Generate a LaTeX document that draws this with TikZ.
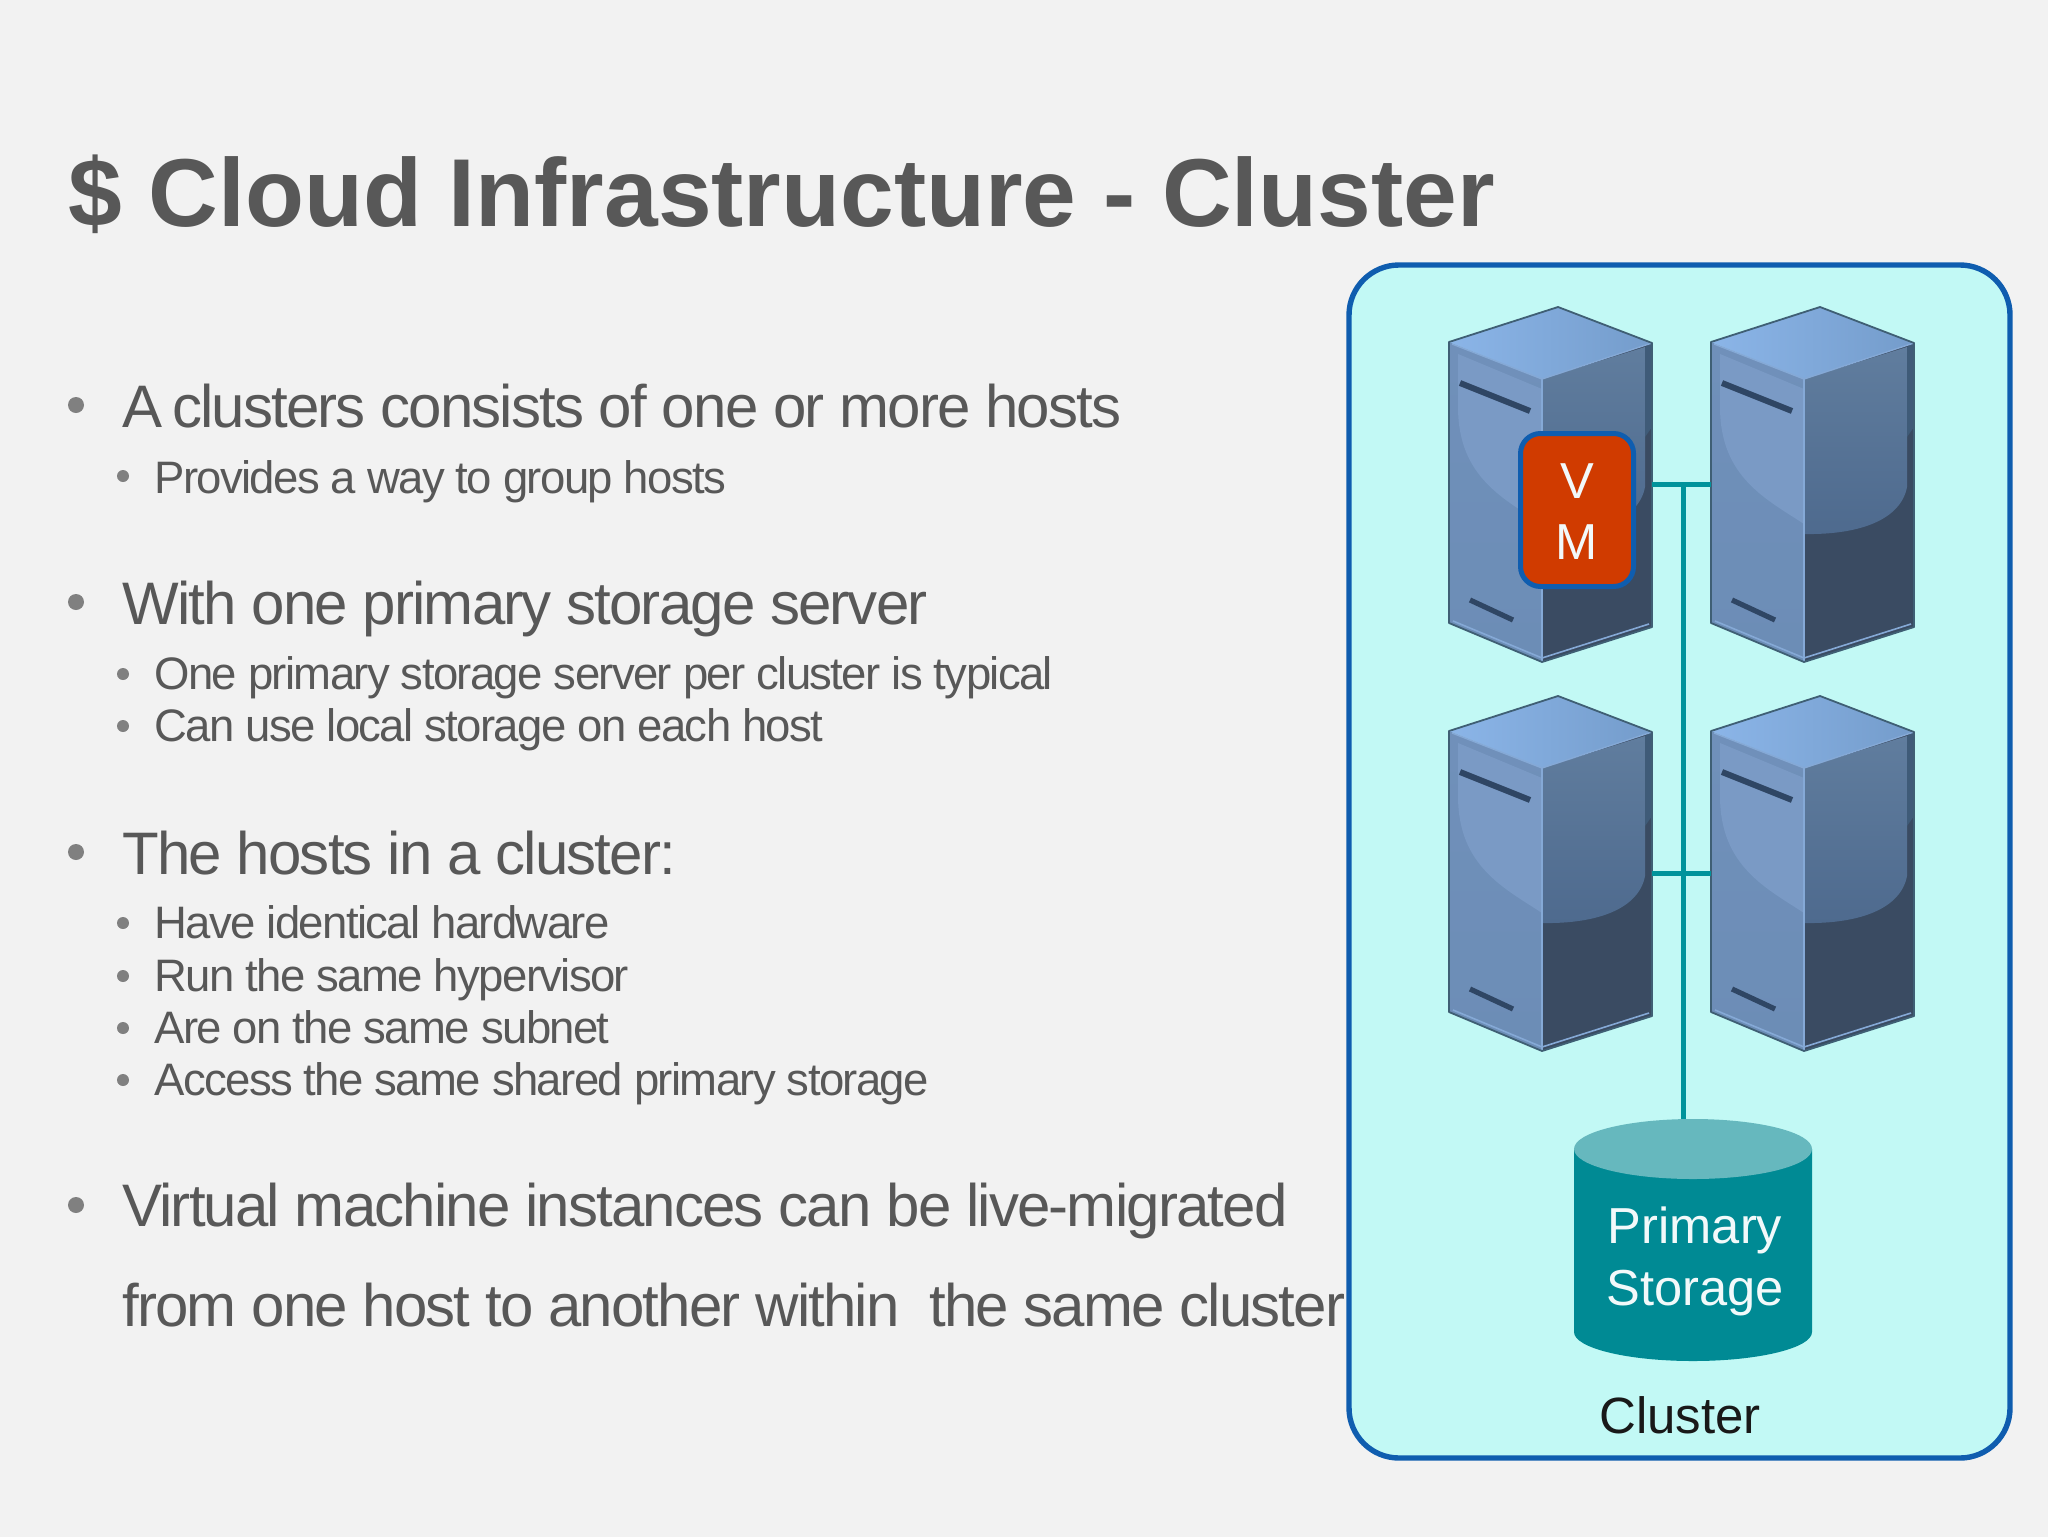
\documentclass[tikz,border=0pt]{standalone}
\usepackage{fontspec}
\setmainfont{Liberation Sans}
\newfontfamily\titlefont{Liberation Sans}
\newfontfamily\bodyfont[LetterSpace=-3.1]{Liberation Sans}
\newfontfamily\subfont[LetterSpace=-3.6]{Liberation Sans}
\definecolor{pagebg}{HTML}{F2F2F2}
\definecolor{inktext}{HTML}{585858}
\definecolor{bulletgrey}{HTML}{808080}
\definecolor{clusterfill}{HTML}{C2F9F5}
\definecolor{borderblue}{HTML}{0F5DAF}
\definecolor{vmred}{HTML}{D03B00}
\definecolor{teal}{HTML}{008A94}
\definecolor{tealtop}{HTML}{66B8BE}
\definecolor{trunk}{HTML}{00939B}
\definecolor{srvedge}{HTML}{3F5F74}
\definecolor{srvdark}{HTML}{3A4B62}
\definecolor{srvslit}{HTML}{2F4664}
\definecolor{srvlefttop}{HTML}{7090BA}
\definecolor{srvleftbot}{HTML}{6C8DB6}
\definecolor{srvlefthi}{HTML}{7A9AC5}
\definecolor{srvrighttop}{HTML}{607D9E}
\definecolor{srvrightbot}{HTML}{4E6A8E}
\definecolor{srvstrip}{HTML}{3F5B78}
\definecolor{srvtopl}{HTML}{8BB5E8}
\definecolor{srvtopr}{HTML}{749CCB}
\definecolor{srvbevel}{HTML}{85A9D6}
\tikzset{
  x=0.5pt,y=-0.5pt,
  titletext/.style={anchor=base west,inner sep=0pt,text=inktext,font=\titlefont\bfseries\fontsize{48.25}{58}\selectfont},
  mainline/.style={anchor=base west,inner sep=0pt,text=inktext,font=\bodyfont\fontsize{30}{36}\selectfont},
  subline/.style={anchor=base west,inner sep=0pt,text=inktext,font=\subfont\fontsize{22.75}{27}\selectfont},
  mainbullet/.style={circle,fill=bulletgrey,inner sep=0pt,minimum size=8pt},
  subbullet/.style={circle,fill=bulletgrey,inner sep=0pt,minimum size=6pt},
  whitetext/.style={anchor=base,inner sep=0pt,text=white!95!teal,font=\fontsize{25.3}{30}\selectfont},
  wire/.style={draw=trunk,line width=2.5pt},
  serverarea/.style={inner sep=0pt,minimum width=101.5pt,minimum height=177.5pt},
  pics/serverbox/.style={code={
    % left face
    \shade[top color=srvlefttop,bottom color=srvleftbot] (0,35) -- (93,72) -- (93,355) -- (0,316) -- cycle;
    % left highlight
    \fill[srvlefthi] (9,47) -- (93,82) -- (93,217) .. controls (55,192) and (9,170) .. (9,100) -- cycle;
    % right face
    \fill[srvdark] (93,72) -- (203,36) -- (203,320) -- (93,355) -- cycle;
    \shade[top color=srvrighttop,bottom color=srvrightbot] (93,72) -- (196,40) -- (196,180) .. controls (190,212) and (150,228) .. (93,227) -- cycle;
    \fill[srvstrip] (196,40) -- (203,36) -- (203,120) -- (196,130) -- cycle;
    % top face
    \shade[left color=srvtopl,right color=srvtopr] (109,0) -- (203,36) -- (93,72) -- (0,35) -- cycle;
    % slits
    \draw[srvslit,line width=3pt] (11,76) -- (81,104);
    \draw[srvslit,line width=2.6pt] (21,293) -- (64,313);
    % edges
    \draw[srvbevel,line width=0.9pt] (93,72) -- (93,355);
    \draw[srvbevel,line width=0.7pt] (93,72) -- (203,36);
    \draw[srvbevel,line width=0.7pt] (93,72) -- (3,37);
    \draw[srvbevel,line width=0.8pt] (4,314) -- (93,351) -- (200,317);
    \draw[srvedge,line width=0.9pt,line join=round] (0,35) -- (109,0) -- (203,36) -- (203,320) -- (93,355) -- (0,316) -- cycle;
  }}
}
\begin{document}
\begin{tikzpicture}
\useasboundingbox (0,0) rectangle (2048,1536);
\fill[pagebg] (-6,-6) rectangle (2054,1542);

% title
\node[titletext] (title) at (68,226) {\$ Cloud Infrastructure - Cluster};

% bullets and text
\node[mainbullet] (b1) at (76,405) {};
\node[mainline] (t1) at (122,427) {A\hspace{-2.6pt} clusters consists of one or more hosts};
\node[subbullet] (b1a) at (123,476) {};
\node[subline] (t1a) at (154,493) {Provides a way to group hosts};

\node[mainbullet] (b2) at (76,602) {};
\node[mainline] (t2) at (122,624) {With one primary storage server};
\node[subbullet] (b2a) at (123,674) {};
\node[subline] (t2a) at (154,689) {One primary storage server per cluster is typical};
\node[subbullet] (b2b) at (123,726) {};
\node[subline] (t2b) at (154,741) {Can use local storage on each host};

\node[mainbullet] (b3) at (76,852) {};
\node[mainline] (t3) at (122,874) {The hosts in a cluster:};
\node[subbullet] (b3a) at (123,923) {};
\node[subline] (t3a) at (154,938) {Have identical hardware};
\node[subbullet] (b3b) at (123,976) {};
\node[subline] (t3b) at (154,991) {Run the same hypervisor};
\node[subbullet] (b3c) at (123,1028) {};
\node[subline] (t3c) at (154,1043) {Are on the same subnet};
\node[subbullet] (b3d) at (123,1080) {};
\node[subline] (t3d) at (154,1095) {Access the same shared primary storage};

\node[mainbullet] (b4) at (76,1205) {};
\node[mainline] (t4) at (122,1226) {Virtual machine instances can be live-migrated};
\node[mainline] (t5) at (122,1326) {from one host to another within\ \ the same cluster};

% cluster frame
\draw[draw=borderblue,fill=clusterfill,line width=2.7pt,rounded corners=25pt] (1349,265) rectangle (2010,1458);

% servers
\node[serverarea] (s1) at (1550.5,484.5) {};
\node[serverarea] (s2) at (1812.5,484.5) {};
\node[serverarea] (s3) at (1550.5,873.5) {};
\node[serverarea] (s4) at (1812.5,873.5) {};
\pic at (1449,307) {serverbox};
\pic at (1711,307) {serverbox};
\pic at (1449,696) {serverbox};
\pic at (1711,696) {serverbox};

% storage
\node[inner sep=0pt,minimum width=119pt,minimum height=121pt] (store) at (1693,1240) {};
\fill[teal] (1574,1149) -- (1574,1332) arc[start angle=180,end angle=360,x radius=59.5pt,y radius=14.5pt] -- (1812,1149) -- cycle;
\fill[tealtop] (1693,1149) ellipse[x radius=59.5pt,y radius=15pt];
\node[whitetext] (storeA) at (1695,1243) {Primary};
\node[whitetext] (storeB) at (1695,1305) {Storage};
\node[anchor=base,inner sep=0pt,text=black!90,font=\fontsize{25.5}{30}\selectfont] (clabel) at (1680,1433) {Cluster};

% connectors
\coordinate (j1) at (1683,484.5);
\coordinate (j2) at (1683,873.5);
\draw[wire] (s1.east) -- (s2.west);
\draw[wire] (s3.east) -- (s4.west);
\draw[wire] (j1) -- (j1 |- store.north);

% VM
\node[draw=borderblue,fill=vmred,line width=2.5pt,rounded corners=10pt,inner sep=0pt,outer sep=0pt,minimum width=56.5pt,minimum height=76.5pt] (vm) at (1577,510) {};
\node[whitetext] (vmV) at (1577,498) {V};
\node[whitetext] (vmM) at (1577,559) {M};
\end{tikzpicture}
\end{document}
